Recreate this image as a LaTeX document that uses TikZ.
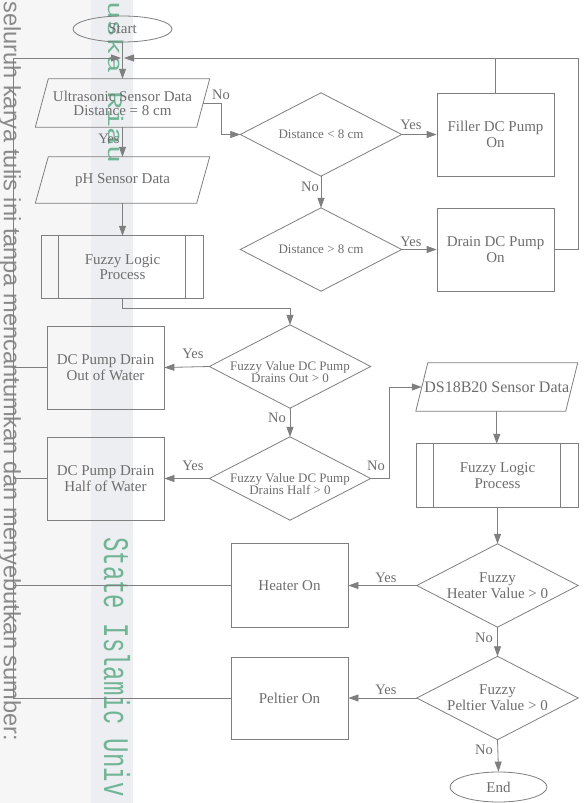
\documentclass[tikz,border=0pt]{standalone}
\usepackage{fontspec}
\setmainfont{Liberation Serif}
\newfontfamily\wmsans{Liberation Sans}
\newfontfamily\wmmono{Liberation Mono}
\usetikzlibrary{arrows.meta,shapes.geometric}
\definecolor{ln}{HTML}{7F7F7F}
\definecolor{tx}{HTML}{6E6E6E}
\definecolor{wmgreen}{HTML}{72B496}
\definecolor{wmgrey}{HTML}{8A8A8A}
\definecolor{stripA}{HTML}{F6F6F6}
\definecolor{stripB}{HTML}{ECEEF1}
\newcommand\drawpara[2]{\draw[outline] ([xshift=#2]#1.north west) -- ([xshift=#2]#1.north east) -- ([xshift=-#2]#1.south east) -- ([xshift=-#2]#1.south west) -- cycle;}
\newcommand\drawdia[1]{\draw[outline] (#1.north) -- (#1.east) -- (#1.south) -- (#1.west) -- cycle;}
\newcommand\drawflp[1]{\draw[outline] (#1.north west) rectangle (#1.south east);
  \draw[outline] ([xshift=17pt]#1.north west) -- ([xshift=17pt]#1.south west);
  \draw[outline] ([xshift=-18pt]#1.north east) -- ([xshift=-18pt]#1.south east);}
\newcommand\lowtwo[2]{\raisebox{-7pt}[\height][\depth]{\begin{tabular}{@{}c@{}}#1\\[-1.5pt]#2\end{tabular}}}
\begin{document}
\begin{tikzpicture}[x=1pt,y=-1pt,
  outline/.style={draw=ln, line width=0.8pt},
  base/.style={draw=none, inner sep=0pt, text=tx, align=center},
  btxt/.style={font=\fontsize{15}{15.5}\selectfont},
  dtxt/.style={font=\fontsize{13}{14}\selectfont},
  ftxt/.style={font=\fontsize{15}{16}\selectfont},
  procbox/.style={base, btxt, outline, minimum width=117pt, minimum height=83pt},
  term/.style={ellipse, base, btxt, outline},
  iobox/.style={base, btxt, minimum width=161pt, minimum height=48pt},
  flpbox/.style={base, btxt, minimum width=161pt, minimum height=62pt},
  dia/.style={base, minimum width=161pt, minimum height=83pt},
  arr/.style={draw=ln, line width=0.8pt, -{Triangle[length=10pt,width=7pt,fill=ln]}},
  plain/.style={draw=ln, line width=0.8pt},
  lbl/.style={text=tx, font=\fontsize{14.5}{15}\selectfont, inner sep=0pt},
  wm/.style={rotate=-90, anchor=base west, inner sep=0pt}
]
\useasboundingbox (0,0) rectangle (584,803);
\fill[white] (0,0) rectangle (584,803);
\fill[stripA] (0,0) rectangle (91,803);
\fill[stripB] (91,0) rectangle (133,803);
% watermark texts
\node[wm, text=wmgrey, font=\wmsans\fontsize{23.6}{24}\selectfont] (wma) at (4,1) {seluruh karya tulis ini tanpa mencantumkan dan menyebutkan sumber:};
\node[wm, text=wmgreen, font=\wmmono\fontsize{24}{24}\selectfont] (wmb) at (104,537) {\scalebox{1}[1.5]{State Islamic Univ}};
\node[wm, text=wmgreen, font=\wmmono\fontsize{30}{30}\selectfont] (wmc) at (108,1) {\scalebox{1}[0.7]{uska Riau}};

% coordinates
\coordinate (jl) at (121,58);
\coordinate (jr) at (124,58);
\coordinate (lx) at (13,0);
\coordinate (rx) at (578,0);

% nodes
\node[term, minimum width=99pt, minimum height=26pt] (start) at (122.5,29) {Start};
\node[iobox, font=\fontsize{15}{14}\selectfont] (us) at (122.5,103) {Ultrasonic Sensor Data\\Distance = 8 cm};
\drawpara{us}{6.5pt}
\node[iobox, minimum height=46pt] (ph) at (122.5,180) {pH Sensor Data};
\drawpara{ph}{6.5pt}
\node[flpbox] (flpa) at (122.5,267) {Fuzzy Logic\\Process};
\drawflp{flpa}
\node[dia, dtxt] (da) at (321,134.5) {Distance < 8 cm};
\drawdia{da}
\node[dia, dtxt] (db) at (321,249.5) {Distance > 8 cm};
\drawdia{db}
\node[procbox] (filler) at (495.5,134.5) {Filler DC Pump\\On};
\node[procbox] (drain) at (495.5,249.5) {Drain DC Pump\\On};
\node[dia, dtxt] (dc) at (290,366.5) {\lowtwo{Fuzzy Value DC Pump}{Drains Out > 0}};
\drawdia{dc}
\node[dia, dtxt] (dd) at (290,478.5) {\lowtwo{Fuzzy Value DC Pump}{Drains Half > 0}};
\drawdia{dd}
\node[procbox] (bout) at (105.5,367.5) {DC Pump Drain\\Out of Water};
\node[procbox] (bhalf) at (105.5,478.5) {DC Pump Drain\\Half of Water};
\node[iobox, minimum width=149.5pt, font=\fontsize{16}{17}\selectfont] (ds) at (496.75,387) {DS18B20 Sensor Data};
\drawpara{ds}{6pt}
\node[flpbox, minimum height=63pt] (flpb) at (497.5,475.5) {Fuzzy Logic\\Process};
\drawflp{flpb}
\node[dia, ftxt] (dh) at (497.5,585.5) {Fuzzy\\Heater Value > 0};
\drawdia{dh}
\node[dia, ftxt] (dp) at (497.5,698) {Fuzzy\\Peltier Value > 0};
\drawdia{dp}
\node[procbox, minimum height=84pt] (heater) at (289.5,585.5) {Heater On};
\node[procbox, minimum height=82pt] (peltier) at (289.5,698) {Peltier On};
\node[term, minimum width=97pt, minimum height=30pt] (end) at (498.5,787) {End};

% labels
\node[lbl] (l1) at (221,95) {No};
\node[lbl] (l2) at (109,139) {Yes};
\node[lbl] (l3) at (411,125) {Yes};
\node[lbl] (l4) at (310,187) {No};
\node[lbl] (l5) at (411,242) {Yes};
\node[lbl] (l6) at (193,354) {Yes};
\node[lbl] (l7) at (277,418) {No};
\node[lbl] (l8) at (193,466) {Yes};
\node[lbl] (l9) at (376,466) {No};
\node[lbl] (l10) at (386,578) {Yes};
\node[lbl] (l11) at (484,638) {No};
\node[lbl] (l12) at (386,690) {Yes};
\node[lbl] (l13) at (484,750) {No};

% connectors
\draw[arr] (start.south) -- (us.north);
\draw[arr] (us.south) -- (ph.north);
\draw[arr] (ph.south) -- (flpa.north);
\draw[arr] (us.east) -- ++(18,0) |- (da.west);
\draw[arr] (da.east) -- (filler.west);
\draw[arr] (da.south) -- (db.north);
\draw[arr] (db.east) -- (drain.west);
\draw[plain] (filler.north) -- (filler.north |- jr);
\draw[arr] (drain.east) -- (drain.east -| rx) |- (jr);
\draw[arr] (flpa.south) -- ++(0,10) -| (dc.north);
\draw[arr] (dc.west) -- (bout.east);
\draw[arr] (dc.south) -- (dd.north);
\draw[arr] (dd.west) -- (bhalf.east);
\draw[arr] (dd.east) -- ++(19,0) |- (ds.west);
\draw[arr] (ds.south) -- (ds.south |- flpb.north);
\draw[arr] (flpb.south) -- (dh.north);
\draw[arr] (dh.west) -- (heater.east);
\draw[arr] (dh.south) -- (dp.north);
\draw[arr] (dp.west) -- (peltier.east);
\draw[arr] (dp.south) -- (end.north);
\draw[plain] (bout.west) -- (bout.west -| lx);
\draw[plain] (bhalf.west) -- (bhalf.west -| lx);
\draw[plain] (heater.west) -- (heater.west -| lx);
\draw[arr] (peltier.west) -- (peltier.west -| lx) |- (jl);
\end{tikzpicture}
\end{document}
